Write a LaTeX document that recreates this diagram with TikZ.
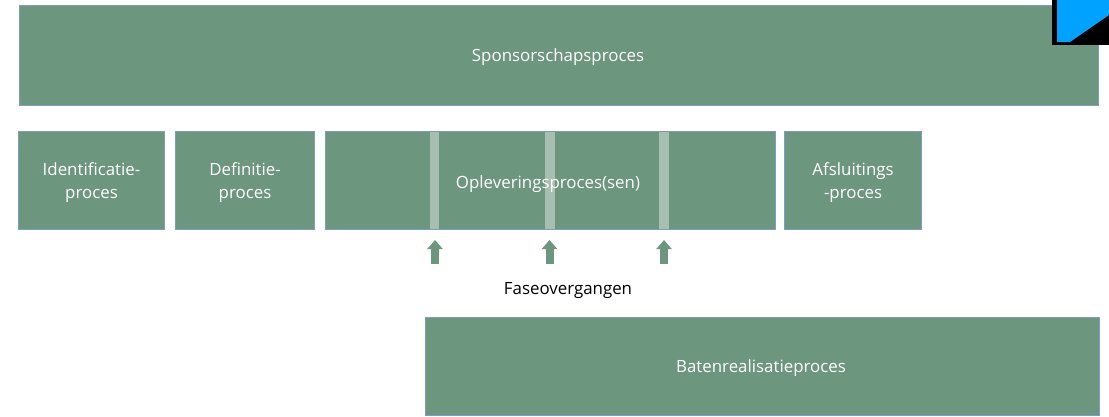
\documentclass[tikz,border=0pt]{standalone}
\usepackage{fontspec}
\setmainfont{Open Sans}
\usetikzlibrary{arrows.meta}
\definecolor{procesGreen}{HTML}{6C967E}
\definecolor{procesEdge}{HTML}{7F9CC4}
\definecolor{overgangBar}{HTML}{A6BFB1}
\definecolor{hoekBlue}{HTML}{00A2FF}
\tikzset{
  procesbox/.style={draw=procesEdge, fill=procesGreen, line width=0.6pt, text=white, align=center, font=\fontsize{9.6}{13.4}\selectfont, inner sep=0pt, text depth=0pt, anchor=north west},
  proceslabel/.style={font=\fontsize{9.6}{13}\selectfont, inner sep=0pt},
  overgang/.style={fill=overgangBar, draw=none, inner sep=0pt, minimum width=1.9mm, minimum height=19.4mm, anchor=north},
  faseArrow/.style={draw=procesGreen, line width=1.6mm, -{Triangle[length=1.8mm, width=3mm]}},
}
\begin{document}
\begin{tikzpicture}[x=0.2mm, y=-0.2mm]
  \useasboundingbox (0,0) rectangle (1109,416);
  % Processes
  \node[procesbox, minimum width=215.8mm, minimum height=20mm] (sponsor) at (19,5) {};
  \node[procesbox, minimum width=29.2mm, minimum height=19.6mm] (identificatie) at (18,131) {Identificatie-\\proces};
  \node[procesbox, minimum width=27.8mm, minimum height=19.6mm] (definitie) at (175,131) {Definitie-\\proces};
  \node[procesbox, minimum width=90mm, minimum height=19.6mm] (oplevering) at (325,131) {};
  \node[procesbox, minimum width=27.4mm, minimum height=19.6mm] (afsluiting) at (784,131) {Afsluitings\\-proces};
  \node[procesbox, minimum width=134.8mm, minimum height=19.6mm] (baten) at (425,317) {};
  % Phase transitions
  \foreach \name/\x/\tipx in {a/434.5/435,b/550/549.5,c/664/664} {
    \node[overgang] (bar\name) at (\x,132) {};
    \coordinate (start\name) at (\tipx,264);
    \coordinate (tip\name) at (\tipx,240);
    \draw[faseArrow] (start\name) -- (tip\name);
  }
  % Labels
  \node[proceslabel, text=white] (sponsorlabel) at (558,57) {Sponsorschapsproces};
  \node[proceslabel, text=white] (opleverlabel) at (548,184) {Opleveringsproces(sen)};
  \node[proceslabel, text=white] (batenlabel) at (761,368) {Batenrealisatieproces};
  \node[proceslabel, text=black] (fase) at (568,290) {Faseovergangen};
  % Corner mark
  \fill[black] (1052,0) rectangle (1109,45);
  \fill[hoekBlue] (1057,0) -- (1109,0) -- (1109,15) -- (1070,42) -- (1057,42) -- cycle;
\end{tikzpicture}
\end{document}
